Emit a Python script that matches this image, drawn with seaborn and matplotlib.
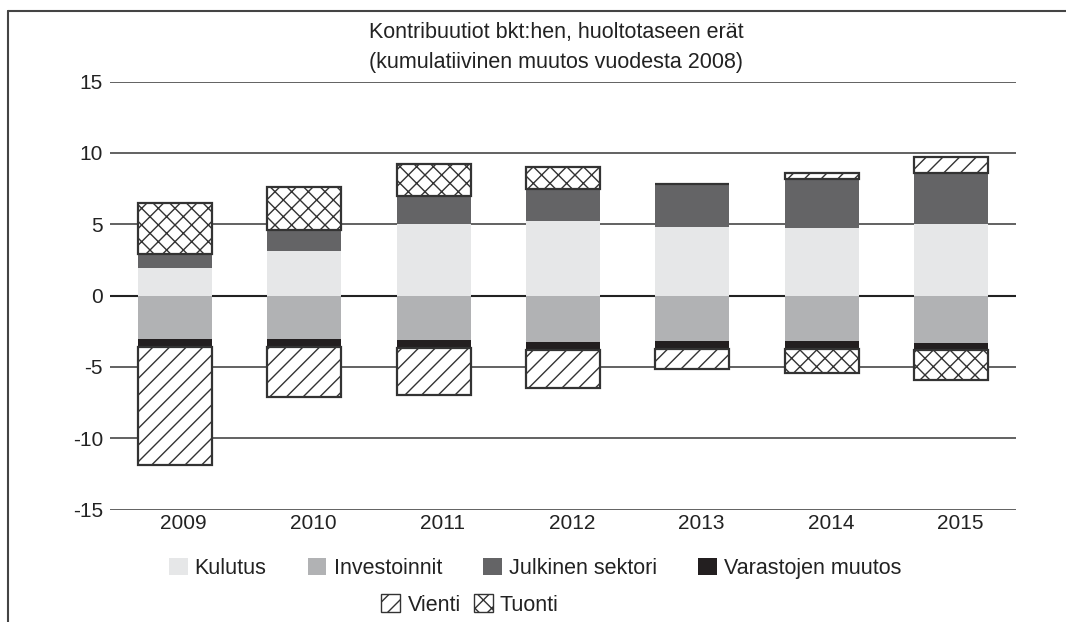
import numpy as np
import pandas as pd
import matplotlib
matplotlib.use("Agg")
import matplotlib.pyplot as plt
from matplotlib.patches import Patch
from matplotlib.lines import Line2D
from matplotlib.transforms import ScaledTranslation
import seaborn as sns

# ---- data ----
years = ["2009", "2010", "2011", "2012", "2013", "2014", "2015"]
kulutus = [1.9, 3.1, 5.0, 5.2, 4.8, 4.7, 5.0]
investoinnit = [-3.05, -3.05, -3.15, -3.25, -3.2, -3.2, -3.3]
julkinen = [1.0, 1.5, 1.95, 2.3, 3.0, 3.45, 3.6]
varastot = [-0.55, -0.55, -0.55, -0.55, -0.55, -0.55, -0.55]
vienti = [-8.3, -3.5, -3.3, -2.65, -1.4, 0.45, 1.1]
tuonti = [3.55, 3.0, 2.3, 1.5, 0.05, -1.65, -2.05]

series_names = ["Kulutus", "Investoinnit", "Julkinen sektori", "Varastojen muutos", "Vienti", "Tuonti"]
series_values = [kulutus, investoinnit, julkinen, varastot, vienti, tuonti]
fill_colors = ["#e6e7e8", "#b1b2b4", "#646466", "#231f20", "white", "white"]
hatches = [None, None, None, None, "//", "xx"]

title1 = "Kontribuutiot bkt:hen, huoltotaseen erät"
title2 = "(kumulatiivinen muutos vuodesta 2008)"
yticks = [-15, -10, -5, 0, 5, 10, 15]

# ---- style ----
sns.set_theme(style="white")
plt.rcParams["font.family"] = ["Liberation Sans", "DejaVu Sans"]
plt.rcParams["hatch.linewidth"] = 1.0
plt.rcParams["hatch.color"] = "#333333"

fig = plt.figure(figsize=(10.66, 6.22), dpi=100)
ax = fig.add_axes([110 / 1066, 1 - 509.5 / 622, (1016 - 110) / 1066, (509.5 - 81.5) / 622])

# grid lines behind bars
for t in yticks:
    ax.axhline(t, color="#222222" if t == 0 else "#555555", lw=1.5 if t == 0 else 1.3, zorder=0)

pos_bottom = np.zeros(len(years))
neg_bottom = np.zeros(len(years))
for name, vals, col, h in zip(series_names, series_values, fill_colors, hatches):
    v = np.array(vals, dtype=float)
    bottom = np.where(v >= 0, pos_bottom, neg_bottom)
    df = pd.DataFrame({"year": years, "value": v})
    kws = dict(edgecolor="#333333", linewidth=1.6, hatch=h) if h else dict(linewidth=0)
    sns.barplot(data=df, x="year", y="value", color=col, saturation=1, width=0.571,
                errorbar=None, bottom=bottom, ax=ax, zorder=2, **kws)
    pos_bottom = pos_bottom + np.where(v >= 0, v, 0)
    neg_bottom = neg_bottom + np.where(v < 0, v, 0)

ax.set_xlim(-0.5, 6.5)
ax.set_ylim(-15, 15)
ax.set_yticks(yticks)
ax.set_yticklabels([str(t) for t in yticks])
ax.set_xlabel("")
ax.set_ylabel("")
for s in ax.spines.values():
    s.set_visible(False)
ax.tick_params(axis="both", length=0, labelsize=15, colors="#222222")
ax.tick_params(axis="y", pad=5)
ax.tick_params(axis="x", pad=3)
off = ScaledTranslation(9 / 100, 0, fig.dpi_scale_trans)
for lab in ax.get_xticklabels():
    lab.set_transform(lab.get_transform() + off)

# titles
fig.text(556 / 1066, 1 - 38 / 622, title1, ha="center", va="baseline", fontsize=15.5, color="#222222")
fig.text(556 / 1066, 1 - 68 / 622, title2, ha="center", va="baseline", fontsize=15.5, color="#222222")

# legends
def mk(i):
    if hatches[i]:
        return Patch(facecolor="white", edgecolor="#333333", hatch=hatches[i], linewidth=1.0)
    return Patch(facecolor=fill_colors[i], edgecolor="none")

leg_kw = dict(frameon=False, fontsize=15.5, handlelength=0.88, handleheight=0.88,
              handletextpad=0.33, borderaxespad=0, borderpad=0, labelcolor="#222222")
leg1 = fig.legend([mk(i) for i in range(4)], series_names[:4], ncol=4, columnspacing=1.9,
                  loc="center", bbox_to_anchor=(535 / 1066, 1 - 568.5 / 622), **leg_kw)
leg2 = fig.legend([mk(i) for i in range(4, 6)], series_names[4:], ncol=2, columnspacing=0.6,
                  loc="center", bbox_to_anchor=(470 / 1066, 1 - 605 / 622), **leg_kw)

# outer frame (top and left)
fig.add_artist(Line2D([8 / 1066, 1.0], [1 - 11 / 622, 1 - 11 / 622], transform=fig.transFigure,
                      color="#444444", lw=1.5))
fig.add_artist(Line2D([8 / 1066, 8 / 1066], [1 - 11 / 622, 0.0], transform=fig.transFigure,
                      color="#444444", lw=1.5))

fig.savefig("out.png", dpi=100)
